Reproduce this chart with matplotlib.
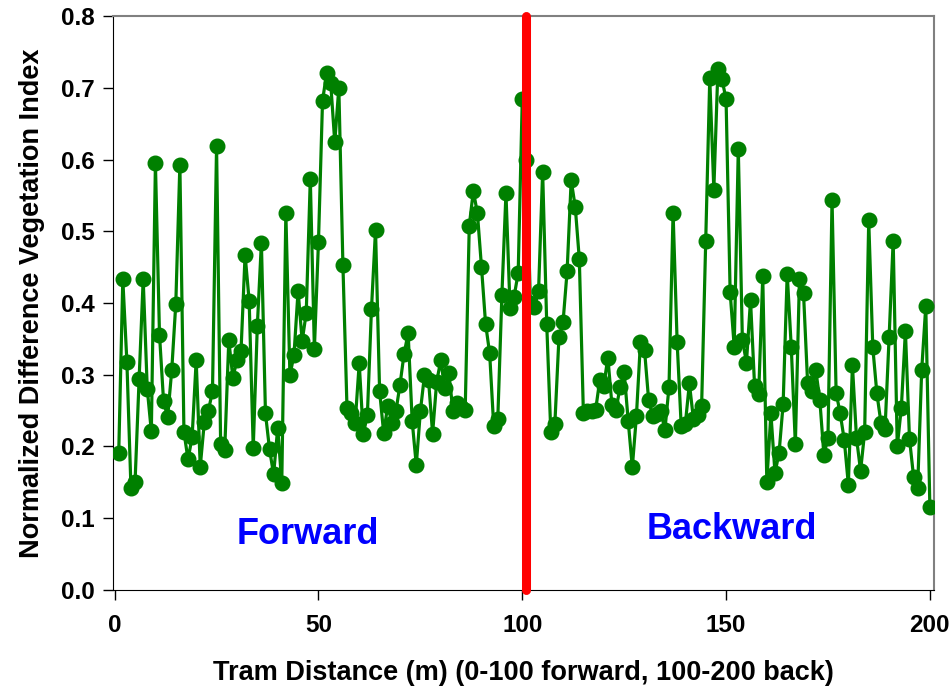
import matplotlib
matplotlib.use("Agg")
import matplotlib.pyplot as plt
import numpy as np

plt.rcParams['font.family'] = ['Liberation Sans', 'DejaVu Sans']
plt.rcParams['font.weight'] = 'bold'

# NDVI readings along the tram, 1 m steps (0-100 forward, 100-200 back)
ndvi_forward = [
    0.191, 0.433, 0.318, 0.142, 0.150, 0.294, 0.433, 0.280, 0.221, 0.595,
    0.356, 0.263, 0.241, 0.306, 0.399, 0.593, 0.220, 0.182, 0.213, 0.320,
    0.172, 0.234, 0.250, 0.277, 0.619, 0.203, 0.195, 0.348, 0.296, 0.320,
    0.333, 0.467, 0.403, 0.198, 0.368, 0.484, 0.246, 0.196, 0.161, 0.226,
    0.149, 0.525, 0.299, 0.328, 0.417, 0.347, 0.386, 0.573, 0.336, 0.485,
    0.682, 0.720, 0.707, 0.624, 0.700, 0.453, 0.254, 0.246, 0.233, 0.316,
    0.217, 0.244, 0.391, 0.502, 0.277, 0.219, 0.257, 0.233, 0.249, 0.286,
    0.329, 0.358, 0.235, 0.174, 0.249, 0.299, 0.293, 0.218, 0.290, 0.320,
    0.281, 0.302, 0.249, 0.260, 0.255, 0.251, 0.508, 0.556, 0.525, 0.450,
    0.371, 0.330, 0.228, 0.239, 0.411, 0.553, 0.393, 0.409, 0.442, 0.684,
]
ndvi_back = [
    0.600, 0.400, 0.394, 0.417, 0.583, 0.371, 0.220, 0.232, 0.352, 0.373,
    0.444, 0.571, 0.534, 0.461, 0.246, 0.249, 0.249, 0.251, 0.292, 0.285,
    0.324, 0.258, 0.251, 0.283, 0.304, 0.235, 0.171, 0.242, 0.346, 0.334,
    0.265, 0.242, 0.245, 0.249, 0.223, 0.283, 0.526, 0.345, 0.228, 0.231,
    0.288, 0.238, 0.244, 0.256, 0.486, 0.713, 0.558, 0.726, 0.712, 0.684,
    0.415, 0.339, 0.615, 0.349, 0.317, 0.404, 0.284, 0.273, 0.437, 0.151,
    0.246, 0.163, 0.191, 0.259, 0.441, 0.338, 0.203, 0.433, 0.414, 0.289,
    0.278, 0.307, 0.265, 0.188, 0.212, 0.544, 0.275, 0.246, 0.209, 0.147,
    0.313, 0.212, 0.166, 0.220, 0.515, 0.338, 0.274, 0.233, 0.224, 0.352,
    0.487, 0.200, 0.254, 0.361, 0.211, 0.158, 0.142, 0.307, 0.396, 0.115,
]
ndvi = ndvi_forward + ndvi_back
distance = np.arange(1, len(ndvi) + 1)
turn_point = 101

fig = plt.figure(figsize=(9.53, 6.87), dpi=100)
ax = fig.add_axes([0.1186, 0.1412, 0.8614, 0.8355])

ax.plot(distance, ndvi, color="#008000", lw=2.3, marker="o", ms=10.5,
        zorder=3)
ax.plot([turn_point, turn_point], [0, 0.8], color="red", lw=6.5,
        solid_capstyle="round", zorder=4, clip_on=False)

ax.text(47.5, 0.077, "Forward", color="blue", fontsize=26, fontweight="bold",
        ha="center", va="center")
ax.text(151.5, 0.084, "Backward", color="blue", fontsize=26,
        fontweight="bold", ha="center", va="center")

ax.set_xlim(-0.4, 201)
ax.set_ylim(0, 0.8)
ax.set_xticks([0, 50, 100, 150, 200])
ax.set_yticks(np.arange(0, 0.81, 0.1))
ax.yaxis.set_major_formatter(matplotlib.ticker.FormatStrFormatter("%.1f"))
ax.tick_params(direction="out", length=7, width=1, labelsize=17.5)
ax.tick_params(axis="x", pad=10)
ax.tick_params(axis="y", pad=6)

for side in ["top", "right"]:
    ax.spines[side].set_color("#808080")
    ax.spines[side].set_linewidth(1.5)

ax.set_xlabel("Tram Distance (m) (0-100 forward, 100-200 back)",
              fontsize=19.5, fontweight="bold", labelpad=17)
ax.set_ylabel("Normalized Difference Vegetation Index", fontsize=19.5,
              fontweight="bold", labelpad=12)

plt.savefig("out.png", dpi=100)
